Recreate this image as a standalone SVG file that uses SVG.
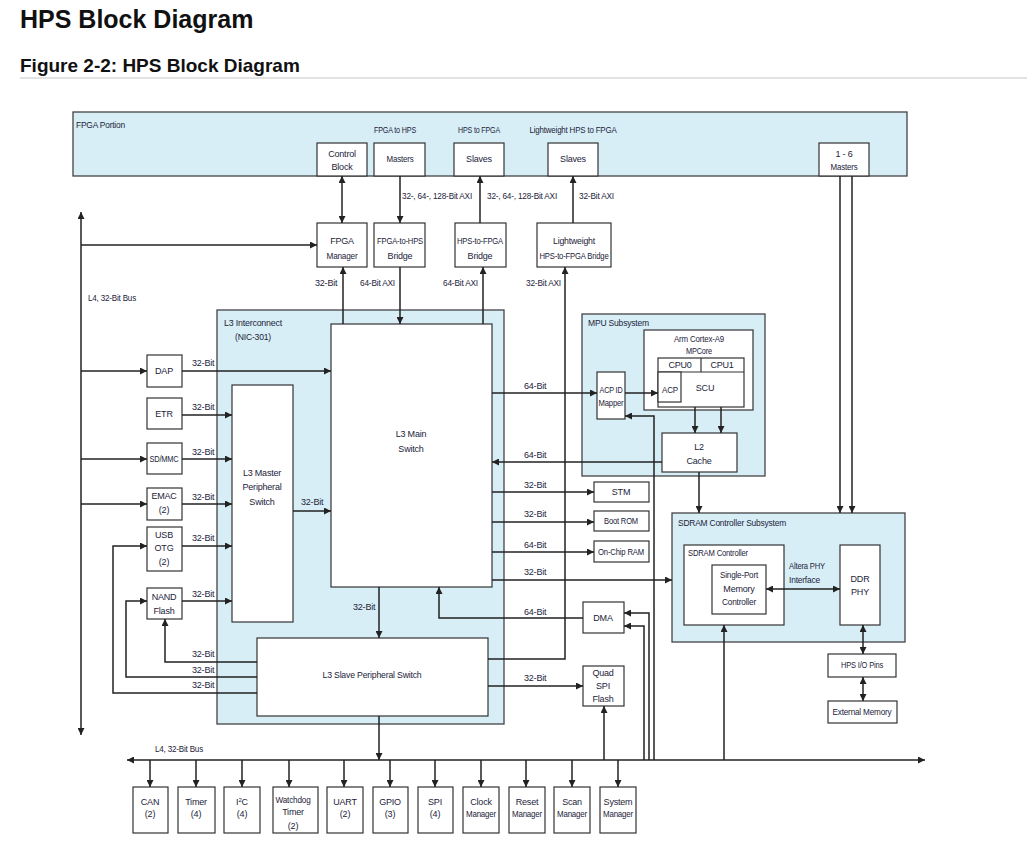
<svg xmlns="http://www.w3.org/2000/svg" width="1027" height="843" viewBox="0 0 1027 843">
<style>
text{font-family:"Liberation Sans",Arial,sans-serif;font-size:9px;fill:#23233a;letter-spacing:-0.2px}
.c{text-anchor:middle}
.box{fill:#fff;stroke:#333;stroke-width:1.2}
.reg{fill:#d7eef6;stroke:#444;stroke-width:1.3}
.ln{fill:none;stroke:#222;stroke-width:1.5}
.a{marker-end:url(#ah)}
.b{marker-start:url(#ah);marker-end:url(#ah)}
.h1{font-size:25px;font-weight:bold;fill:#111;letter-spacing:0}
.h2{font-size:19px;font-weight:bold;fill:#111;letter-spacing:0}
</style>
<defs>
<marker id="ah" viewBox="0 0 10 10" refX="10" refY="5" markerWidth="8" markerHeight="7" markerUnits="userSpaceOnUse" orient="auto-start-reverse"><path d="M0,0 L10,5 L0,10 z" fill="#222"/></marker>
</defs>
<rect width="1027" height="843" fill="#fff"/>
<g id="title">
<text x="20" y="28" class="h1">HPS Block Diagram</text>
<text x="20" y="72" class="h2">Figure 2-2: HPS Block Diagram</text>
<line x1="20" y1="78" x2="1027" y2="78" stroke="#e2e2e2" stroke-width="2"/>
</g>
<g id="fpga-portion">
<rect x="73" y="112" width="834" height="64" class="reg"/>
<text x="76" y="128" textLength="49" lengthAdjust="spacingAndGlyphs">FPGA Portion</text>
<text x="395" y="133" class="c" textLength="42" lengthAdjust="spacingAndGlyphs">FPGA to HPS</text>
<text x="479" y="133" class="c" textLength="42" lengthAdjust="spacingAndGlyphs">HPS to FPGA</text>
<text x="573" y="133" class="c" textLength="87" lengthAdjust="spacingAndGlyphs">Lightweight HPS to FPGA</text>
</g>
<g id="control-block"><rect x="317" y="143" width="50" height="33" class="box"/><text x="342" y="157" class="c">Control</text><text x="342" y="170" class="c">Block</text></g>
<g id="f2h-masters"><rect x="374" y="143" width="51" height="33" class="box"/><text x="400" y="162" class="c" textLength="27" lengthAdjust="spacingAndGlyphs">Masters</text></g>
<g id="h2f-slaves"><rect x="454" y="143" width="50" height="33" class="box"/><text x="479" y="162" class="c">Slaves</text></g>
<g id="lw-slaves"><rect x="548" y="143" width="50" height="33" class="box"/><text x="573" y="162" class="c">Slaves</text></g>
<g id="masters-1-6"><rect x="819" y="143" width="50" height="33" class="box"/><text x="844" y="157" class="c">1 - 6</text><text x="844" y="170" class="c" textLength="27" lengthAdjust="spacingAndGlyphs">Masters</text></g>
<g id="fpga-manager"><rect x="317" y="223" width="50" height="44" class="box"/><text x="342" y="244" class="c">FPGA</text><text x="342" y="259" class="c" textLength="31" lengthAdjust="spacingAndGlyphs">Manager</text></g>
<g id="f2h-bridge"><rect x="374" y="223" width="51" height="44" class="box"/><text x="400" y="244" class="c" textLength="46" lengthAdjust="spacingAndGlyphs">FPGA-to-HPS</text><text x="400" y="259" class="c">Bridge</text></g>
<g id="h2f-bridge"><rect x="455" y="223" width="51" height="44" class="box"/><text x="480" y="244" class="c" textLength="46" lengthAdjust="spacingAndGlyphs">HPS-to-FPGA</text><text x="480" y="259" class="c">Bridge</text></g>
<g id="lw-bridge"><rect x="537" y="223" width="74" height="44" class="box"/><text x="574" y="244" class="c" textLength="42" lengthAdjust="spacingAndGlyphs">Lightweight</text><text x="574" y="259" class="c" textLength="69" lengthAdjust="spacingAndGlyphs">HPS-to-FPGA Bridge</text></g>
<g id="l3-interconnect">
<rect x="217" y="310" width="287" height="414" class="reg"/>
<text x="224" y="326" textLength="58" lengthAdjust="spacingAndGlyphs">L3 Interconnect</text>
<text x="235" y="340" textLength="36" lengthAdjust="spacingAndGlyphs">(NIC-301)</text>
</g>
<g id="l3-main-switch"><rect x="331" y="324" width="161" height="263" class="box"/><text x="411" y="437" class="c">L3 Main</text><text x="411" y="452" class="c">Switch</text></g>
<g id="l3-master-switch"><rect x="232" y="385" width="61" height="237" class="box"/><text x="262" y="476" class="c">L3 Master</text><text x="262" y="490" class="c">Peripheral</text><text x="262" y="505" class="c">Switch</text></g>
<g id="l3-slave-switch"><rect x="257" y="638" width="231" height="78" class="box"/><text x="372" y="678" class="c" textLength="99" lengthAdjust="spacingAndGlyphs">L3 Slave Peripheral Switch</text></g>
<g id="dap"><rect x="147" y="355" width="35" height="32" class="box"/><text x="164" y="374" class="c">DAP</text></g>
<g id="etr"><rect x="147" y="398" width="35" height="31" class="box"/><text x="164" y="417" class="c">ETR</text></g>
<g id="sdmmc"><rect x="147" y="443" width="35" height="31" class="box"/><text x="164" y="462" class="c" textLength="29" lengthAdjust="spacingAndGlyphs">SD/MMC</text></g>
<g id="emac"><rect x="147" y="488" width="35" height="32" class="box"/><text x="164" y="499" class="c">EMAC</text><text x="164" y="513" class="c">(2)</text></g>
<g id="usb-otg"><rect x="147" y="527" width="35" height="44" class="box"/><text x="164" y="538" class="c">USB</text><text x="164" y="551" class="c">OTG</text><text x="164" y="565" class="c">(2)</text></g>
<g id="nand"><rect x="147" y="588" width="35" height="31" class="box"/><text x="164" y="600" class="c">NAND</text><text x="164" y="614" class="c">Flash</text></g>
<g id="stm"><rect x="594" y="482" width="55" height="20" class="box"/><text x="621" y="495" class="c">STM</text></g>
<g id="boot-rom"><rect x="594" y="511" width="55" height="20" class="box"/><text x="621" y="524" class="c" textLength="34" lengthAdjust="spacingAndGlyphs">Boot ROM</text></g>
<g id="ocram"><rect x="594" y="541" width="55" height="21" class="box"/><text x="621" y="555" class="c" textLength="46" lengthAdjust="spacingAndGlyphs">On-Chip RAM</text></g>
<g id="dma"><rect x="583" y="602" width="41" height="31" class="box"/><text x="603" y="621" class="c">DMA</text></g>
<g id="qspi"><rect x="583" y="666" width="41" height="40" class="box"/><text x="603" y="676" class="c">Quad</text><text x="603" y="689" class="c">SPI</text><text x="603" y="702" class="c">Flash</text></g>
<g id="mpu-subsystem">
<rect x="582" y="314" width="183" height="162" class="reg"/>
<text x="588" y="326" textLength="61" lengthAdjust="spacingAndGlyphs">MPU Subsystem</text>
</g>
<g id="cortex-a9"><rect x="644" y="330" width="109" height="80" class="box"/><text x="699" y="342" class="c" textLength="50" lengthAdjust="spacingAndGlyphs">Arm Cortex-A9</text><text x="699" y="354" class="c" textLength="26" lengthAdjust="spacingAndGlyphs">MPCore</text></g>
<g id="scu"><rect x="658" y="358" width="86" height="49" class="box"/><line x1="658" y1="372" x2="744" y2="372" stroke="#333" stroke-width="1.2"/><line x1="701" y1="358" x2="701" y2="372" stroke="#333" stroke-width="1.2"/><text x="680" y="368" class="c">CPU0</text><text x="722" y="368" class="c">CPU1</text><text x="705" y="391" class="c">SCU</text></g>
<g id="acp"><rect x="658" y="372" width="23" height="30" class="box"/><text x="670" y="393" class="c" textLength="16" lengthAdjust="spacingAndGlyphs">ACP</text></g>
<g id="acp-id-mapper"><rect x="597" y="372" width="28" height="47" class="box"/><text x="611" y="393" class="c" textLength="23" lengthAdjust="spacingAndGlyphs">ACP ID</text><text x="611" y="406" class="c" textLength="25" lengthAdjust="spacingAndGlyphs">Mapper</text></g>
<g id="l2-cache"><rect x="662" y="433" width="75" height="39" class="box"/><text x="699" y="450" class="c">L2</text><text x="699" y="464" class="c">Cache</text></g>
<g id="sdram-subsystem">
<rect x="672" y="513" width="233" height="129" class="reg"/>
<text x="678" y="526" textLength="108" lengthAdjust="spacingAndGlyphs">SDRAM Controller Subsystem</text>
</g>
<g id="sdram-controller"><rect x="684" y="545" width="100" height="80" class="box"/><text x="688" y="556" textLength="60" lengthAdjust="spacingAndGlyphs">SDRAM Controller</text></g>
<g id="spmc"><rect x="712" y="565" width="54" height="49" class="box"/><text x="739" y="578" class="c" textLength="38" lengthAdjust="spacingAndGlyphs">Single-Port</text><text x="739" y="592" class="c">Memory</text><text x="739" y="605" class="c" textLength="34" lengthAdjust="spacingAndGlyphs">Controller</text></g>
<g id="ddr-phy"><rect x="840" y="545" width="40" height="80" class="box"/><text x="860" y="582" class="c">DDR</text><text x="860" y="595" class="c">PHY</text></g>
<g id="hps-io"><rect x="828" y="654" width="68" height="23" class="box"/><text x="862" y="668" class="c" textLength="42" lengthAdjust="spacingAndGlyphs">HPS I/O Pins</text></g>
<g id="ext-mem"><rect x="828" y="701" width="69" height="22" class="box"/><text x="862" y="715" class="c" textLength="59" lengthAdjust="spacingAndGlyphs">External Memory</text></g>
<g id="can"><rect x="133" y="787" width="35" height="46" class="box"/><text x="150" y="805" class="c">CAN</text><text x="150" y="817" class="c">(2)</text></g>
<g id="timer"><rect x="178" y="787" width="37" height="46" class="box"/><text x="196" y="805" class="c">Timer</text><text x="196" y="817" class="c">(4)</text></g>
<g id="i2c"><rect x="224" y="787" width="36" height="46" class="box"/><text x="242" y="805" class="c">I<tspan font-size="6" dy="-3">2</tspan><tspan dy="3">C</tspan></text><text x="242" y="817" class="c">(4)</text></g>
<g id="watchdog"><rect x="273" y="787" width="45" height="46" class="box"/><text x="293" y="803" class="c" textLength="35" lengthAdjust="spacingAndGlyphs">Watchdog</text><text x="293" y="815" class="c">Timer</text><text x="293" y="829" class="c">(2)</text></g>
<g id="uart"><rect x="327" y="787" width="36" height="46" class="box"/><text x="345" y="805" class="c">UART</text><text x="345" y="817" class="c">(2)</text></g>
<g id="gpio"><rect x="373" y="787" width="35" height="46" class="box"/><text x="390" y="805" class="c">GPIO</text><text x="390" y="817" class="c">(3)</text></g>
<g id="spi"><rect x="418" y="787" width="35" height="46" class="box"/><text x="435" y="805" class="c">SPI</text><text x="435" y="817" class="c">(4)</text></g>
<g id="clock-mgr"><rect x="463" y="787" width="36" height="46" class="box"/><text x="481" y="805" class="c">Clock</text><text x="481" y="817" class="c" textLength="30" lengthAdjust="spacingAndGlyphs">Manager</text></g>
<g id="reset-mgr"><rect x="509" y="787" width="36" height="46" class="box"/><text x="527" y="805" class="c">Reset</text><text x="527" y="817" class="c" textLength="30" lengthAdjust="spacingAndGlyphs">Manager</text></g>
<g id="scan-mgr"><rect x="554" y="787" width="36" height="46" class="box"/><text x="572" y="805" class="c">Scan</text><text x="572" y="817" class="c" textLength="30" lengthAdjust="spacingAndGlyphs">Manager</text></g>
<g id="system-mgr"><rect x="600" y="787" width="36" height="46" class="box"/><text x="618" y="805" class="c">System</text><text x="618" y="817" class="c" textLength="30" lengthAdjust="spacingAndGlyphs">Manager</text></g>
<g id="connectors">
<path class="ln b" d="M342,176 L342,223"/>
<path class="ln a" d="M400,176 L400,223"/>
<path class="ln a" d="M480,223 L480,176"/>
<path class="ln a" d="M573,223 L573,176"/>
<path class="ln a" d="M840,176 L840,513"/>
<path class="ln a" d="M852,176 L852,513"/>
<path class="ln b" d="M81,735 L81,212"/>
<path class="ln a" d="M81,245 L317,245"/>
<path class="ln a" d="M343,324 L343,267"/>
<path class="ln a" d="M400,267 L400,324"/>
<path class="ln a" d="M483,324 L483,267"/>
<path class="ln a" d="M488,659 L565,659 L565,267"/>
<path class="ln a" d="M81,371 L147,371"/>
<path class="ln a" d="M182,371 L331,371"/>
<path class="ln a" d="M182,415 L232,415"/>
<path class="ln a" d="M81,459 L147,459"/>
<path class="ln a" d="M182,459 L232,459"/>
<path class="ln a" d="M81,504 L147,504"/>
<path class="ln a" d="M182,504 L232,504"/>
<path class="ln a" d="M182,546 L232,546"/>
<path class="ln a" d="M182,601 L232,601"/>
<path class="ln a" d="M293,511 L331,511"/>
<path class="ln a" d="M257,662 L165,662 L165,619"/>
<path class="ln a" d="M257,677 L126,677 L126,601 L147,601"/>
<path class="ln a" d="M257,693 L113,693 L113,546 L147,546"/>
<path class="ln a" d="M379,587 L379,638"/>
<path class="ln a" d="M379,716 L379,760"/>
<path class="ln b" d="M127,760 L925,760"/>
<path class="ln a" d="M150,760 L150,787"/>
<path class="ln a" d="M196,760 L196,787"/>
<path class="ln a" d="M242,760 L242,787"/>
<path class="ln a" d="M289,760 L289,787"/>
<path class="ln a" d="M344,760 L344,787"/>
<path class="ln a" d="M390,760 L390,787"/>
<path class="ln a" d="M435,760 L435,787"/>
<path class="ln a" d="M481,760 L481,787"/>
<path class="ln a" d="M526,760 L526,787"/>
<path class="ln a" d="M572,760 L572,787"/>
<path class="ln a" d="M618,760 L618,787"/>
<path class="ln a" d="M604,760 L604,706"/>
<path class="ln a" d="M644,760 L644,626 L624,626"/>
<path class="ln a" d="M649,760 L649,613 L624,613"/>
<path class="ln a" d="M654,760 L654,416 L625,416"/>
<path class="ln a" d="M724,760 L724,625"/>
<path class="ln a" d="M492,393 L597,393"/>
<path class="ln a" d="M625,393 L658,393"/>
<path class="ln a" d="M695,407 L695,433"/>
<path class="ln a" d="M721,407 L721,433"/>
<path class="ln a" d="M662,462 L492,462"/>
<path class="ln a" d="M699,472 L699,513"/>
<path class="ln a" d="M492,492 L594,492"/>
<path class="ln a" d="M492,522 L594,522"/>
<path class="ln a" d="M492,552 L594,552"/>
<path class="ln a" d="M492,580 L672,580"/>
<path class="ln a" d="M583,618 L439,618 L439,587"/>
<path class="ln a" d="M488,686 L583,686"/>
<path class="ln b" d="M766,589 L840,589"/>
<path class="ln b" d="M863,625 L863,654"/>
<path class="ln b" d="M863,677 L863,701"/>
</g>
<g id="connector-labels">
<text x="402" y="199" textLength="70" lengthAdjust="spacingAndGlyphs">32-, 64-, 128-Bit AXI</text>
<text x="487" y="199" textLength="70" lengthAdjust="spacingAndGlyphs">32-, 64-, 128-Bit AXI</text>
<text x="579" y="199" textLength="35" lengthAdjust="spacingAndGlyphs">32-Bit AXI</text>
<text x="315" y="286">32-Bit</text>
<text x="360" y="286" textLength="35" lengthAdjust="spacingAndGlyphs">64-Bit AXI</text>
<text x="443" y="286" textLength="35" lengthAdjust="spacingAndGlyphs">64-Bit AXI</text>
<text x="526" y="286" textLength="35" lengthAdjust="spacingAndGlyphs">32-Bit AXI</text>
<text x="88" y="301" textLength="48" lengthAdjust="spacingAndGlyphs">L4, 32-Bit Bus</text>
<text x="192" y="366">32-Bit</text>
<text x="192" y="410">32-Bit</text>
<text x="192" y="455">32-Bit</text>
<text x="192" y="500">32-Bit</text>
<text x="192" y="541">32-Bit</text>
<text x="192" y="597">32-Bit</text>
<text x="192" y="657">32-Bit</text>
<text x="192" y="673">32-Bit</text>
<text x="192" y="688">32-Bit</text>
<text x="301" y="505">32-Bit</text>
<text x="353" y="610">32-Bit</text>
<text x="524" y="389">64-Bit</text>
<text x="524" y="458">64-Bit</text>
<text x="524" y="488">32-Bit</text>
<text x="524" y="517">32-Bit</text>
<text x="524" y="548">64-Bit</text>
<text x="524" y="575">32-Bit</text>
<text x="524" y="615">64-Bit</text>
<text x="524" y="681">32-Bit</text>
<text x="789" y="569" textLength="36" lengthAdjust="spacingAndGlyphs">Altera PHY</text>
<text x="789" y="583" textLength="31" lengthAdjust="spacingAndGlyphs">Interface</text>
<text x="155" y="752" textLength="48" lengthAdjust="spacingAndGlyphs">L4, 32-Bit Bus</text>
</g>
</svg>
